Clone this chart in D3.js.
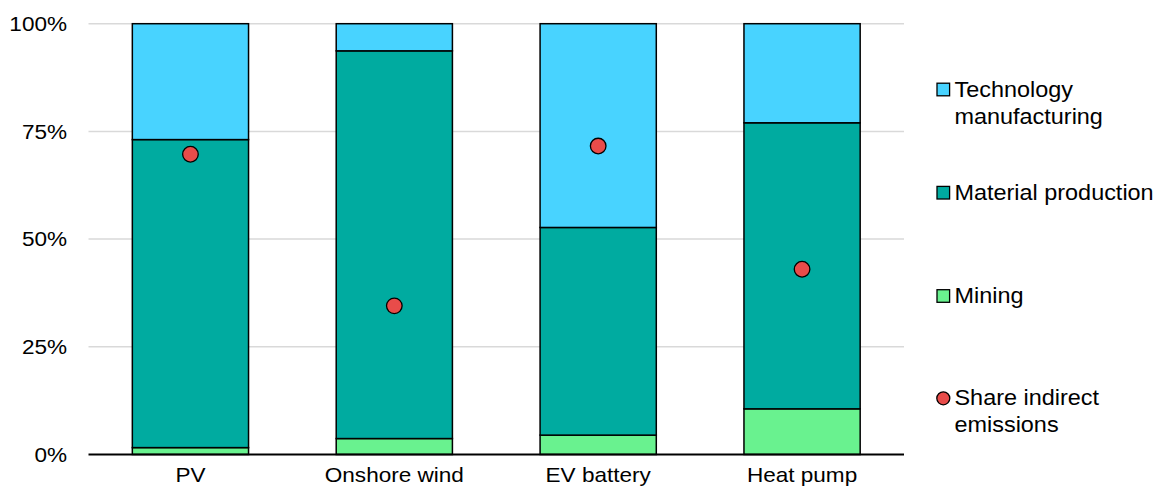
<!DOCTYPE html>
<html>
<head>
<meta charset="utf-8">
<script src="https://cdn.jsdelivr.net/npm/d3@7"></script>
<style>
  html, body { margin: 0; padding: 0; background: #fff; }
  svg text { font-family: "Liberation Sans", Arial, sans-serif; fill: #000; }
</style>
</head>
<body>
<svg id="chart" width="1161" height="489"></svg>
<script>
// Technologies on the x axis
const categories = ["PV", "Onshore wind", "EV battery", "Heat pump"];
// Shares of indirect emissions by stage (%)
const mining = [1.6, 3.7, 4.5, 10.6];
const materialProduction = [71.5, 90.0, 48.2, 66.4];
const technologyManufacturing = [26.9, 6.3, 47.3, 23.0];
// Share of indirect emissions in total (%)
const shareIndirect = [69.7, 34.5, 71.6, 43.0];
// Axis ticks
const yTicks = [0, 25, 50, 75, 100];
const yTickLabels = ["0%", "25%", "50%", "75%", "100%"];

const seriesNames = ["Mining", "Material production", "Technology manufacturing"];
const seriesColors = ["#69F28F", "#00ABA0", "#48D3FF"];
const dotColor = "#E84C4A";

const svg = d3.select("#chart");
const xs = 1.1; // horizontal text stretch

const x = d3.scaleBand().domain(categories).range([88.5, 904])
  .paddingInner(0.43).paddingOuter(0.215);
const y = d3.scaleLinear().domain([0, 100]).range([454.5, 23.7]);

// stacked data
const rows = categories.map((c, i) => ({
  cat: c,
  "Mining": mining[i],
  "Material production": materialProduction[i],
  "Technology manufacturing": technologyManufacturing[i]
}));
const stack = d3.stack().keys(seriesNames)(rows);

// gridlines
svg.append("g").selectAll("line").data(yTicks.filter(d => d > 0)).join("line")
  .attr("x1", 88.5).attr("x2", 904)
  .attr("y1", d => y(d)).attr("y2", d => y(d))
  .attr("stroke", "#d9d9d9").attr("stroke-width", 1.5);

// y tick labels
svg.append("g").selectAll("text").data(yTicks).join("text")
  .attr("transform", d => `translate(67,${y(d)}) scale(${xs},1)`)
  .attr("text-anchor", "end").attr("dy", "0.35em")
  .attr("font-size", "20.5px")
  .text((d, i) => yTickLabels[i]);

// bars
svg.append("g").selectAll("g").data(stack).join("g")
  .attr("fill", (d, i) => seriesColors[i])
  .selectAll("rect").data(d => d).join("rect")
  .attr("x", d => x(d.data.cat))
  .attr("width", x.bandwidth())
  .attr("y", d => y(d[1]))
  .attr("height", d => y(d[0]) - y(d[1]))
  .attr("stroke", "#000").attr("stroke-width", 1.5);

// x axis baseline
svg.append("line").attr("x1", 88.5).attr("x2", 904)
  .attr("y1", y(0)).attr("y2", y(0))
  .attr("stroke", "#000").attr("stroke-width", 2);

// x labels
svg.append("g").selectAll("text").data(categories).join("text")
  .attr("transform", d => `translate(${x(d) + x.bandwidth() / 2},481.5) scale(${xs},1)`)
  .attr("text-anchor", "middle").attr("font-size", "20.5px")
  .text(d => d);

// share indirect emissions dots
svg.append("g").selectAll("circle").data(shareIndirect).join("circle")
  .attr("cx", (d, i) => x(categories[i]) + x.bandwidth() / 2)
  .attr("cy", d => y(d))
  .attr("r", 7.8)
  .attr("fill", dotColor).attr("stroke", "#000").attr("stroke-width", 1.3);

// legend
const legendItems = [
  { lines: ["Technology", "manufacturing"], color: seriesColors[2], cy: 89.5, type: "rect" },
  { lines: ["Material production"], color: seriesColors[1], cy: 192.7, type: "rect" },
  { lines: ["Mining"], color: seriesColors[0], cy: 296, type: "rect" },
  { lines: ["Share indirect", "emissions"], color: dotColor, cy: 398.3, type: "circle" }
];
const lg = svg.append("g");
legendItems.forEach(it => {
  if (it.type === "rect") {
    lg.append("rect").attr("x", 937).attr("y", it.cy - 6.3)
      .attr("width", 12.6).attr("height", 12.6)
      .attr("fill", it.color).attr("stroke", "#000").attr("stroke-width", 1.3);
  } else {
    lg.append("circle").attr("cx", 943.3).attr("cy", it.cy).attr("r", 6.5)
      .attr("fill", it.color).attr("stroke", "#000").attr("stroke-width", 1.3);
  }
  it.lines.forEach((t, j) => {
    lg.append("text")
      .attr("transform", `translate(954.5,${it.cy + 7 + j * 27}) scale(${xs},1)`)
      .attr("font-size", "21.3px")
      .text(t);
  });
});
</script>
</body>
</html>
